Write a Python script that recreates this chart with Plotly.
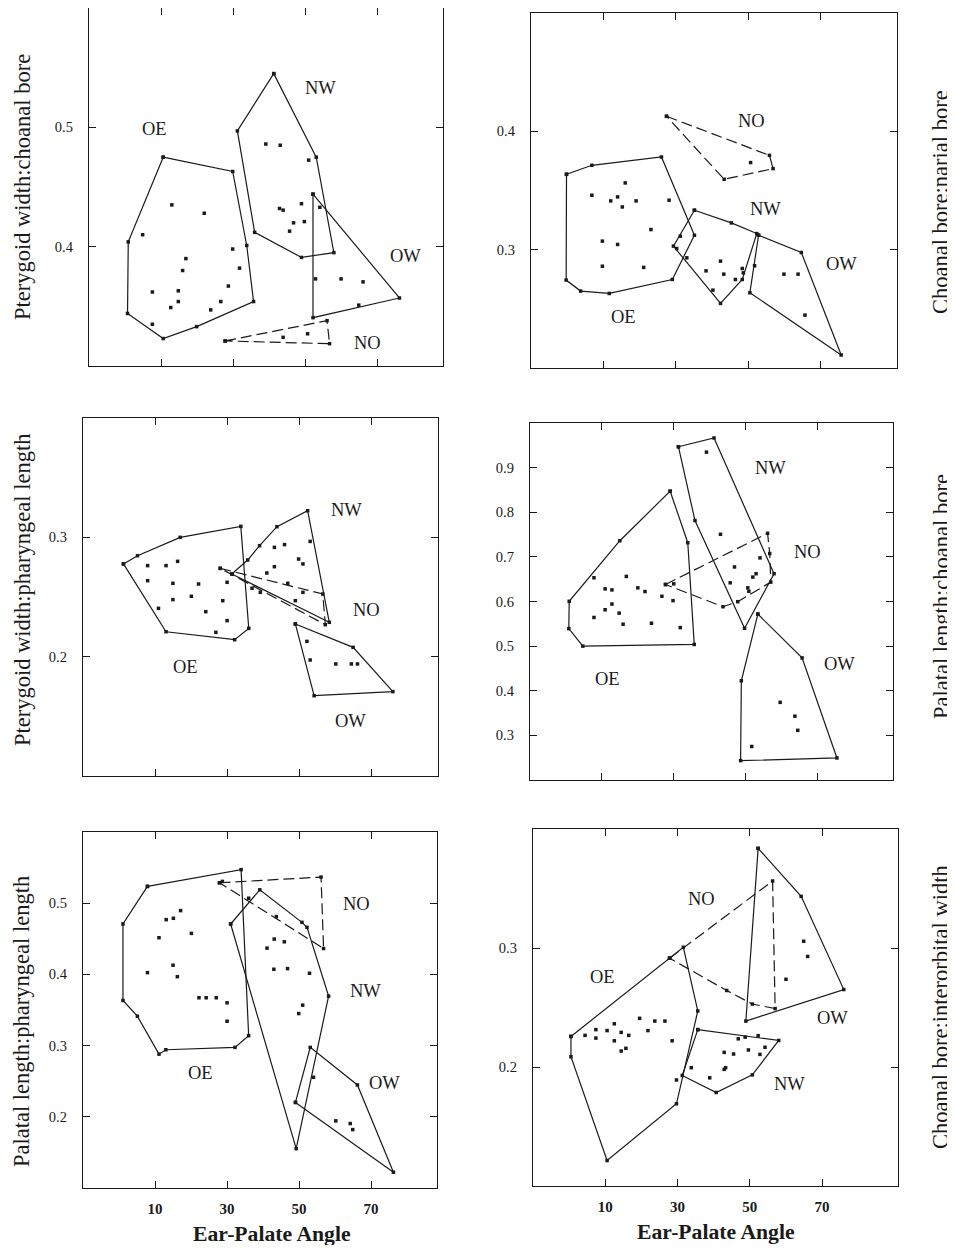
import plotly.graph_objects as go

# ---------------- data ----------------
X_TICKS = [10, 30, 50, 70]
X_TITLE = "Ear-Palate Angle"
Y_TITLES = ["Pterygoid width:choanal bore", "Choanal bore:narial bore",
            "Pterygoid width:pharyngeal length", "Palatal length:choanal bore",
            "Palatal length:pharyngeal length", "Choanal bore:interorbital width"]
Y_TICKS = [[0.4, 0.5], [0.3, 0.4], [0.2, 0.3],
           [0.3, 0.4, 0.5, 0.6, 0.7, 0.8, 0.9], [0.2, 0.3, 0.4, 0.5], [0.2, 0.3]]
Y_RANGES = [[0.3, 0.6], [0.2, 0.5], [0.1, 0.4], [0.2, 1.0], [0.1, 0.6], [0.1, 0.4]]
X_RANGES = [[-10, 88.3], [-10, 91], [-10, 88.3], [-10, 91], [-10, 88.3], [-10, 91]]

# Panel 1: Pterygoid width:choanal bore
P1_OE_HULL = [(10.6, 0.475), (29.9, 0.463), (33.8, 0.401), (35.7, 0.354), (19.9, 0.333),
              (10.6, 0.323), (0.7, 0.344), (0.9, 0.404)]
P1_OE_PTS = [(4.9, 0.410), (13.0, 0.435), (22.0, 0.428), (29.9, 0.398), (31.8, 0.382),
             (16.9, 0.390), (16.0, 0.380), (7.6, 0.362), (14.8, 0.363), (14.8, 0.354),
             (12.7, 0.349), (23.8, 0.347), (26.6, 0.354), (28.7, 0.367), (7.6, 0.335)]
P1_NW_HULL = [(41.3, 0.545), (53.1, 0.475), (58.0, 0.395), (49.0, 0.391), (36.0, 0.412), (31.2, 0.497)]
P1_NW_PTS = [(39.1, 0.486), (43.1, 0.485), (51.0, 0.4725), (42.9, 0.432), (43.9, 0.4306),
             (49.0, 0.436), (46.8, 0.420), (49.8, 0.421), (45.7, 0.413)]
P1_OW_HULL = [(52.2, 0.444), (76.2, 0.357), (52.2, 0.3405)]
P1_OW_PTS = [(54.1, 0.433), (52.9, 0.373), (60.0, 0.373), (66.1, 0.3705), (64.9, 0.351)]
P1_NO_HULL = [(27.8, 0.321), (56.1, 0.338), (56.8, 0.3187)]
P1_NO_PTS = [(43.9, 0.324), (50.7, 0.327)]
P1_LABELS = [("OE", 8.3, 0.499), ("NW", 54.2, 0.533), ("OW", 77.9, 0.392), ("NO", 67.2, 0.319)]

# Panel 2: Choanal bore:narial bore
P2_OE_HULL = [(-0.2, 0.3637), (6.8, 0.3713), (26.0, 0.3783), (35.1, 0.3122), (29.0, 0.2748),
              (11.6, 0.263), (3.7, 0.265), (-0.3, 0.2743)]
P2_OE_PTS = [(16.0, 0.3564), (6.8, 0.346), (12.0, 0.3412), (13.9, 0.3446), (15.2, 0.3361),
             (19.0, 0.3412), (28.1, 0.3418), (23.1, 0.317), (9.7, 0.3072), (13.9, 0.3044),
             (9.7, 0.286), (21.1, 0.285)]
P2_NW_HULL = [(35.1, 0.3333), (45.3, 0.3226), (52.3, 0.3136), (48.3, 0.2748), (42.3, 0.2546), (29.3, 0.303)]
P2_NW_PTS = [(31.2, 0.3114), (30.2, 0.301), (33.0, 0.2931), (38.3, 0.2821), (42.3, 0.2903),
             (43.2, 0.2793), (46.4, 0.2748), (48.3, 0.2841), (48.6, 0.2804), (51.7, 0.2864), (40.2, 0.2658)]
P2_OW_HULL = [(52.8, 0.3122), (64.6, 0.2976), (75.6, 0.211), (50.4, 0.2636)]
P2_OW_PTS = [(59.8, 0.2793), (63.7, 0.2793), (65.6, 0.2447)]
P2_NO_HULL = [(27.4, 0.4127), (55.8, 0.3797), (56.8, 0.3685), (43.3, 0.3595)]
P2_NO_PTS = [(50.6, 0.3736)]
P2_LABELS = [("NO", 50.9, 0.409), ("NW", 54.6, 0.334), ("OW", 75.6, 0.288), ("OE", 15.5, 0.243)]

# Panel 3: Pterygoid width:pharyngeal length
P3_OE_HULL = [(1.2, 0.2777), (5.1, 0.2846), (16.9, 0.300), (33.7, 0.3092), (35.9, 0.2237),
              (32.0, 0.2142), (13.0, 0.2209)]
P3_OE_PTS = [(7.9, 0.2763), (13.0, 0.2763), (16.2, 0.2799), (7.9, 0.2637), (14.9, 0.2615),
             (22.0, 0.2609), (20.0, 0.2506), (14.9, 0.2478), (10.9, 0.2405), (24.0, 0.2377),
             (28.7, 0.2469), (29.9, 0.2623), (29.9, 0.2302), (26.8, 0.2204)]
P3_NW_HULL = [(31.2, 0.2693), (35.6, 0.281), (38.9, 0.293), (43.7, 0.3089), (52.2, 0.3223), (58.2, 0.2288)]
P3_NW_PTS = [(43.0, 0.2916), (45.8, 0.2939), (52.9, 0.2966), (40.9, 0.2701), (43.0, 0.2754),
             (49.7, 0.2818), (50.9, 0.2777), (46.7, 0.2615), (48.8, 0.2469), (39.1, 0.2539), (50.9, 0.2539)]
P3_OW_HULL = [(48.8, 0.2274), (64.8, 0.2078), (75.8, 0.1707), (54.0, 0.1673)]
P3_OW_PTS = [(52.0, 0.2128), (52.9, 0.1972), (60.0, 0.1939), (64.3, 0.1939), (66.0, 0.1939)]
P3_NO_HULL = [(28.0, 0.274), (56.4, 0.2525), (57.1, 0.2268)]
P3_NO_PTS = [(36.8, 0.2573)]
P3_LABELS = [("NW", 63.1, 0.323), ("NO", 68.6, 0.239), ("OE", 18.3, 0.191), ("OW", 64.0, 0.146)]

# Panel 4: Palatal length:choanal bore
P4_OE_HULL = [(29.0, 0.8472), (33.9, 0.7317), (35.7, 0.5038), (4.7, 0.500), (0.8, 0.5392),
              (0.9, 0.6004), (15.0, 0.7362)]
P4_OE_PTS = [(7.8, 0.6532), (16.8, 0.6562), (10.9, 0.6283), (12.8, 0.626), (20.0, 0.6306),
             (22.0, 0.6223), (26.7, 0.6117), (29.8, 0.6019), (7.8, 0.5642), (10.9, 0.5815),
             (12.8, 0.5943), (14.8, 0.574), (15.9, 0.5491), (23.8, 0.5513), (31.8, 0.5415)]
P4_NW_HULL = [(31.3, 0.9468), (41.2, 0.9664), (57.9, 0.6623), (49.7, 0.540), (35.9, 0.7815)]
P4_NW_PTS = [(39.1, 0.9347), (43.0, 0.7506), (46.9, 0.6774), (45.7, 0.6419), (52.0, 0.6547),
             (52.9, 0.6623), (50.6, 0.6306), (50.9, 0.623), (54.0, 0.6977)]
P4_OW_HULL = [(53.4, 0.5717), (65.7, 0.4736), (75.4, 0.2494), (48.6, 0.2434), (48.8, 0.4223)]
P4_OW_PTS = [(59.6, 0.374), (63.7, 0.343), (64.5, 0.3113), (51.7, 0.2751)]
P4_NO_HULL = [(27.7, 0.6381), (56.1, 0.7528), (56.7, 0.7075), (57.0, 0.6434), (47.8, 0.5996), (43.7, 0.5883)]
P4_NO_PTS = [(30.0, 0.6396)]
P4_LABELS = [("NW", 57.0, 0.900), ("NO", 67.1, 0.710), ("OW", 76.0, 0.461), ("OE", 11.6, 0.426)]

# Panel 5: Palatal length:pharyngeal length
P5_OE_HULL = [(7.9, 0.5236), (33.9, 0.5471), (36.0, 0.3139), (32.2, 0.2975), (13.0, 0.2942),
              (11.1, 0.288), (5.1, 0.3413), (1.1, 0.3634), (1.1, 0.4708)]
P5_OE_PTS = [(13.1, 0.4769), (15.1, 0.4788), (17.1, 0.4896), (11.1, 0.4515), (20.1, 0.4576),
             (15.0, 0.4129), (16.2, 0.3968), (7.9, 0.4025), (22.2, 0.3672), (24.2, 0.3672),
             (27.0, 0.3672), (30.0, 0.3601), (30.0, 0.3342)]
P5_NW_HULL = [(31.0, 0.4708), (39.1, 0.5188), (50.8, 0.4731), (52.2, 0.4661), (58.2, 0.3695), (49.2, 0.1552)]
P5_NW_PTS = [(36.0, 0.507), (43.7, 0.4812), (41.1, 0.4369), (43.1, 0.4496), (45.9, 0.4458),
             (43.0, 0.4072), (46.8, 0.4081), (52.9, 0.4016), (49.9, 0.345), (51.0, 0.3568)]
P5_OW_HULL = [(49.0, 0.2202), (53.1, 0.2975), (66.2, 0.2447), (76.2, 0.1222)]
P5_OW_PTS = [(60.2, 0.1943), (64.2, 0.1905), (64.9, 0.182), (54.0, 0.2555)]
P5_NO_HULL = [(27.9, 0.5287), (56.1, 0.5367), (56.8, 0.4364)]
P5_NO_PTS = [(28.7, 0.5306)]
P5_LABELS = [("NO", 65.9, 0.499), ("NW", 68.4, 0.377), ("OE", 22.5, 0.261), ("OW", 73.6, 0.247)]

# Panel 6: Choanal bore:interorbital width
P6_OE_HULL = [(0.5, 0.2257), (27.8, 0.2914), (31.6, 0.3006), (35.6, 0.2471), (29.7, 0.1691),
              (10.5, 0.1214), (0.5, 0.2086)]
P6_OE_PTS = [(4.4, 0.2266), (7.4, 0.2314), (7.4, 0.2243), (10.5, 0.2306), (12.5, 0.2363),
             (12.5, 0.222), (14.4, 0.2291), (16.5, 0.2266), (14.4, 0.2134), (15.7, 0.2157),
             (19.5, 0.2409), (21.8, 0.2306), (23.7, 0.2386), (26.5, 0.2386), (28.5, 0.222)]
P6_NW_HULL = [(35.6, 0.2314), (58.0, 0.2223), (50.7, 0.1934), (40.7, 0.1786), (31.3, 0.1929)]
P6_NW_PTS = [(46.8, 0.2237), (48.7, 0.2251), (52.3, 0.2263), (42.9, 0.2123), (45.5, 0.2109),
             (49.6, 0.2143), (52.8, 0.2106), (54.2, 0.2166), (33.8, 0.1994), (42.9, 0.198),
             (43.3, 0.1994), (38.9, 0.1909), (29.7, 0.1891)]
P6_OW_HULL = [(52.3, 0.3837), (64.2, 0.3434), (76.0, 0.2651), (48.9, 0.2386)]
P6_OW_PTS = [(64.9, 0.3057), (66.0, 0.2929), (60.0, 0.2737)]
P6_NO_HULL = [(27.8, 0.2914), (56.3, 0.3563), (57.0, 0.2491), (50.7, 0.2529), (43.6, 0.2643)]
P6_NO_PTS = []
P6_LABELS = [("NO", 36.6, 0.341), ("OE", 9.1, 0.276), ("OW", 73.0, 0.241), ("NW", 60.9, 0.186)]

PANELS = [
    {"OE": (P1_OE_HULL, P1_OE_PTS), "NW": (P1_NW_HULL, P1_NW_PTS), "OW": (P1_OW_HULL, P1_OW_PTS), "NO": (P1_NO_HULL, P1_NO_PTS), "labels": P1_LABELS},
    {"OE": (P2_OE_HULL, P2_OE_PTS), "NW": (P2_NW_HULL, P2_NW_PTS), "OW": (P2_OW_HULL, P2_OW_PTS), "NO": (P2_NO_HULL, P2_NO_PTS), "labels": P2_LABELS},
    {"OE": (P3_OE_HULL, P3_OE_PTS), "NW": (P3_NW_HULL, P3_NW_PTS), "OW": (P3_OW_HULL, P3_OW_PTS), "NO": (P3_NO_HULL, P3_NO_PTS), "labels": P3_LABELS},
    {"OE": (P4_OE_HULL, P4_OE_PTS), "NW": (P4_NW_HULL, P4_NW_PTS), "OW": (P4_OW_HULL, P4_OW_PTS), "NO": (P4_NO_HULL, P4_NO_PTS), "labels": P4_LABELS},
    {"OE": (P5_OE_HULL, P5_OE_PTS), "NW": (P5_NW_HULL, P5_NW_PTS), "OW": (P5_OW_HULL, P5_OW_PTS), "NO": (P5_NO_HULL, P5_NO_PTS), "labels": P5_LABELS},
    {"OE": (P6_OE_HULL, P6_OE_PTS), "NW": (P6_NW_HULL, P6_NW_PTS), "OW": (P6_OW_HULL, P6_OW_PTS), "NO": (P6_NO_HULL, P6_NO_PTS), "labels": P6_LABELS},
]

# ---------------- layout ----------------
# page is 955x1253; the html body has an 8px margin on every side, so the figure
# is sized to avoid a vertical scrollbar (which would hide the right edge)
OFF = 8
W, H = 955 - OFF, 1253 - 2 * OFF
# panel boxes in page pixels: left, right, top, bottom
BOXES = [(89, 443, 8, 366), (531, 897, 13, 368),
         (83, 438, 418, 776), (530, 893, 423, 780),
         (83, 437, 832, 1188), (533, 898, 829, 1186)]
# centres (page pixels) of the rotated y titles
YTITLE_POS = [(22, 187), (941, 202), (22, 590), (941, 597), (22, 1022), (941, 1007)]
SERIF = "Liberation Serif, Times New Roman, serif"
INK = "#1a1a1a"


def fx(px):
    return (px - OFF) / W


def fy(py):
    return 1 - (py - OFF) / H


fig = go.Figure()
layout = dict(width=W, height=H, margin=dict(l=0, r=0, t=0, b=0),
              paper_bgcolor="white", plot_bgcolor="white", showlegend=False)
annotations = []

for i, panel in enumerate(PANELS):
    n = i + 1
    xa = "x" if n == 1 else f"x{n}"
    ya = "y" if n == 1 else f"y{n}"
    for g in ["OE", "NW", "OW", "NO"]:
        hull, pts = panel[g]
        hx = [p[0] for p in hull] + [hull[0][0]]
        hy = [p[1] for p in hull] + [hull[0][1]]
        dash = "11px,5px" if g == "NO" else "solid"
        fig.add_trace(go.Scatter(x=hx, y=hy, xaxis=xa, yaxis=ya, mode="lines+markers",
                                 line=dict(color=INK, width=1.2, dash=dash),
                                 marker=dict(symbol="square", size=3.5, color=INK),
                                 hoverinfo="skip"))
        if pts:
            fig.add_trace(go.Scatter(x=[p[0] for p in pts], y=[p[1] for p in pts],
                                     xaxis=xa, yaxis=ya, mode="markers",
                                     marker=dict(symbol="square", size=3.5, color=INK),
                                     hoverinfo="skip"))
    for (txt, lx, ly) in panel["labels"]:
        annotations.append(dict(text=txt, x=lx, y=ly, xref=xa, yref=ya, showarrow=False,
                                font=dict(family=SERIF, size=18.5, color=INK)))

    l, r, t, b = BOXES[i]
    bottom_row = n >= 5
    layout["xaxis" if n == 1 else f"xaxis{n}"] = dict(
        domain=[fx(l), fx(r)], anchor=ya, range=X_RANGES[i],
        tickvals=X_TICKS, ticktext=[str(v) for v in X_TICKS],
        showticklabels=bottom_row, ticks="inside", ticklen=7, tickwidth=1.2, tickcolor=INK,
        showline=True, linecolor=INK, linewidth=1.4, mirror="allticks",
        showgrid=False, zeroline=False, ticklabelstandoff=7,
        tickfont=dict(family=SERIF, size=15, color=INK, weight="bold"))
    layout["yaxis" if n == 1 else f"yaxis{n}"] = dict(
        domain=[fy(b), fy(t)], anchor=xa, range=Y_RANGES[i],
        tickvals=Y_TICKS[i], ticktext=[f"{v:.1f}" for v in Y_TICKS[i]],
        ticks="inside", ticklen=7, tickwidth=1.2, tickcolor=INK,
        showline=True, linecolor=INK, linewidth=1.4, mirror="allticks",
        showgrid=False, zeroline=False, ticklabelstandoff=12,
        tickfont=dict(family=SERIF, size=14.5, color=INK))

    # y-axis titles (left column on far left, right column on far right)
    tx, ty = YTITLE_POS[i]
    annotations.append(dict(text=Y_TITLES[i], x=fx(tx), y=fy(ty),
                            xref="paper", yref="paper", showarrow=False, textangle=-90,
                            xanchor="center", yanchor="middle",
                            font=dict(family=SERIF, size=22.5, color=INK)))

# x titles
for (cx, cy) in [(272, 1234), (716, 1232)]:
    annotations.append(dict(text=X_TITLE, x=fx(cx), y=fy(cy), xref="paper", yref="paper",
                            showarrow=False, xanchor="center", yanchor="middle",
                            font=dict(family=SERIF, size=21.7, color=INK, weight="bold")))

layout["annotations"] = annotations
fig.update_layout(**layout)
fig.write_html("out.html")
